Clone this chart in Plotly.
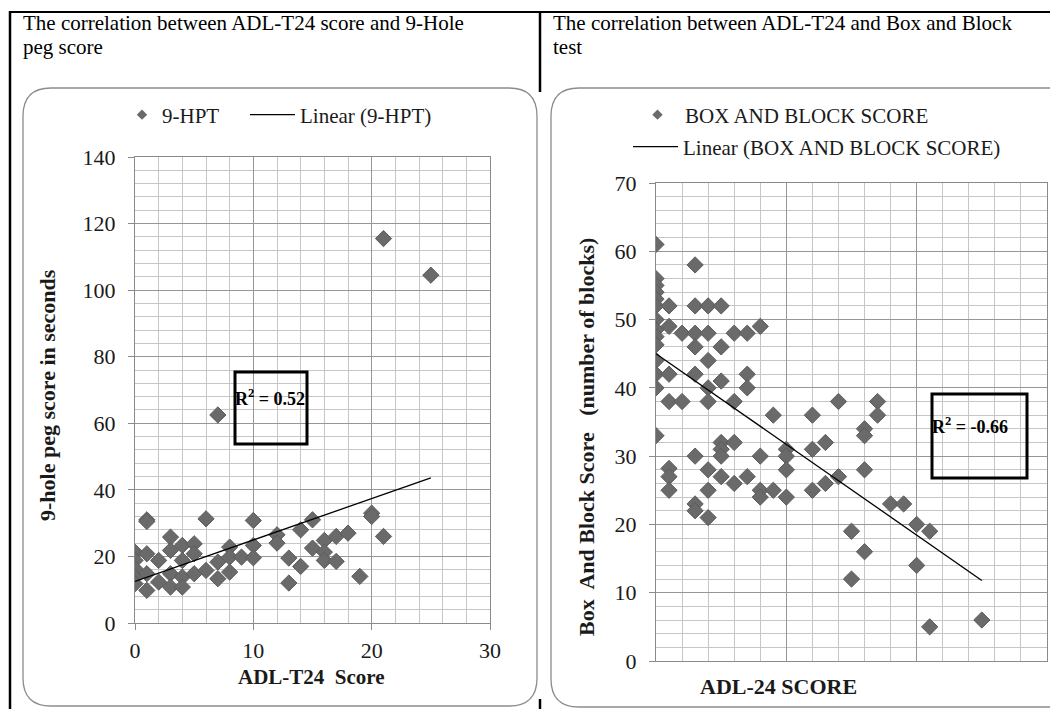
import plotly.graph_objects as go

W, H = 1058, 709
OX, OY = 8, 8   # the page body offsets the figure by 8px

# ---------------- data ----------------
# Left: ADL-T24 score vs 9-hole peg test (seconds)
hpt_x = [0, 0, 0, 0, 0,
         1, 1, 1, 1, 1,
         2, 2,
         3, 3, 3, 3,
         4, 4, 4, 4,
         5, 5, 5,
         6, 6,
         7, 7, 7,
         8, 8, 8,
         9,
         10, 10, 10,
         12, 12,
         13, 13,
         14, 14,
         15, 15,
         16, 16, 16,
         17, 17,
         18,
         19,
         20, 20,
         21, 21,
         25]
hpt_y = [21.3, 18.8, 16.3, 13.8, 11.8,
         31.0, 30.5, 20.8, 14.8, 9.8,
         18.8, 12.3,
         25.8, 21.8, 14.8, 10.8,
         23.3, 18.8, 13.8, 10.8,
         23.8, 20.8, 14.8,
         31.3, 15.8,
         62.5, 18.3, 13.3,
         22.8, 19.8, 15.3,
         19.8,
         30.8, 23.3, 19.6,
         26.5, 24.0,
         19.5, 12.0,
         28.0, 17.0,
         31.0, 22.5,
         24.8, 21.3, 18.8,
         26.0, 18.5,
         27.0,
         14.0,
         33.0, 32.0,
         115.5, 26.0,
         104.5]
hpt_trend_x = [0, 25]
hpt_trend_y = [12.5, 43.6]
hpt_r2 = "0.52"

# Right: ADL-24 score vs Box and Block score
bbt_x = [0] * 14 + [1] * 7 + [2] * 2 + [3] * 8 + [4] * 8 + [5] * 7 + [6] * 4 + \
        [7] * 4 + [8] * 4 + [9] * 2 + [10] * 4 + [12] * 3 + [13] * 2 + [14] * 2 + \
        [15] * 2 + [16] * 4 + [17] * 2 + [18] + [19] + [20] * 2 + [21] * 2 + [25]
bbt_y = [61, 56, 55, 54, 53, 52, 50, 48.5, 47.5, 46.3, 44, 42, 40, 33,
         52, 49, 42, 38, 28.2, 27, 25,
         48, 38,
         58, 52, 48, 46, 42, 30, 23, 22,
         52, 48, 44, 40, 38, 28, 25, 21,
         52, 46, 41, 32, 31, 30, 27,
         48, 38, 32, 26,
         48, 42, 40, 27,
         49, 30, 25, 24,
         36, 25,
         31, 30, 28, 24,
         36, 31, 25,
         32, 26,
         38, 27,
         19, 12,
         34, 33, 28, 16,
         38, 36,
         23,
         23,
         20, 14,
         19, 5,
         6]
bbt_trend_x = [0, 25]
bbt_trend_y = [45.0, 11.8]
bbt_r2 = "-0.66"

left_title = ["The correlation between ADL-T24 score and 9-Hole", "peg score"]
right_title = ["The correlation between ADL-T24 and Box and Block", "test"]

# ---------------- helpers ----------------
def px(x):
    return (x - OX) / W

def py(y):
    return 1 - (y - OY) / H

SERIF = "Liberation Serif, Times New Roman, serif"
MARK = "#6a6a6a"
MAJ = "#969696"
MIN = "#c6c6c6"
TXT = "#1a1a1a"

fig = go.Figure()

# left chart traces
fig.add_trace(go.Scatter(x=hpt_x, y=hpt_y, mode="markers", showlegend=False,
                         marker=dict(symbol="diamond", size=12.5, color=MARK,
                                     line=dict(color="#5c5c5c", width=1)),
                         xaxis="x", yaxis="y"))
fig.add_trace(go.Scatter(x=hpt_trend_x, y=hpt_trend_y, mode="lines", showlegend=False,
                         line=dict(color="black", width=1.3), xaxis="x", yaxis="y"))
fig.add_trace(go.Scatter(x=[None], y=[None], mode="markers", name="9-HPT",
                         marker=dict(symbol="diamond", size=8, color=MARK),
                         legend="legend", xaxis="x", yaxis="y"))
fig.add_trace(go.Scatter(x=[None], y=[None], mode="lines", name="Linear (9-HPT)",
                         line=dict(color="black", width=1.3),
                         legend="legend3", xaxis="x", yaxis="y"))

# right chart traces
fig.add_trace(go.Scatter(x=bbt_x, y=bbt_y, mode="markers", showlegend=False,
                         marker=dict(symbol="diamond", size=12.5, color=MARK,
                                     line=dict(color="#5c5c5c", width=1)),
                         xaxis="x2", yaxis="y2"))
fig.add_trace(go.Scatter(x=bbt_trend_x, y=bbt_trend_y, mode="lines", showlegend=False,
                         line=dict(color="black", width=1.3), xaxis="x2", yaxis="y2"))
fig.add_trace(go.Scatter(x=[None], y=[None], mode="markers", name="BOX AND BLOCK SCORE",
                         marker=dict(symbol="diamond", size=8, color=MARK),
                         legend="legend2", xaxis="x2", yaxis="y2"))
fig.add_trace(go.Scatter(x=[None], y=[None], mode="lines",
                         name="Linear (BOX AND BLOCK SCORE)",
                         line=dict(color="black", width=1.3),
                         legend="legend4", xaxis="x2", yaxis="y2"))

def axis(domain, rng, dtick, minor, anchor, labels=True, ticks="outside", standoff=0):
    return dict(domain=domain, range=rng, dtick=dtick, tick0=0, anchor=anchor,
                showgrid=True, gridcolor=MAJ, gridwidth=1,
                minor=dict(dtick=minor, tick0=0, showgrid=True, gridcolor=MIN,
                           gridwidth=1, ticks=""),
                showline=True, linecolor="#8a8a8a", linewidth=1, mirror=True,
                ticks=ticks, ticklen=6, tickcolor="#8a8a8a",
                showticklabels=labels, zeroline=False, automargin=False,
                ticklabelstandoff=standoff,
                tickfont=dict(family=SERIF, size=22, color=TXT),
                fixedrange=True)

def legend(x, y, iw=30):
    return dict(orientation="v", x=px(x), y=py(y), xanchor="left", yanchor="middle",
                font=dict(family=SERIF, size=21, color=TXT), itemwidth=iw,
                bgcolor="rgba(0,0,0,0)", borderwidth=0,
                itemclick=False, itemdoubleclick=False, tracegroupgap=0)

# plot areas (pixels in the reference picture)
L = dict(x0=135, x1=490, y0=157, y1=623)
R = dict(x0=656, x1=1047, y0=183, y1=661)

fig.update_layout(
    width=W, height=H,
    margin=dict(l=0, r=0, t=0, b=0, pad=0, autoexpand=False),
    paper_bgcolor="white", plot_bgcolor="white",
    xaxis=axis([px(L["x0"]), px(L["x1"])], [0, 30], 10, 2, "y", standoff=2),
    yaxis=axis([py(L["y1"]), py(L["y0"])], [0, 140], 20, 4, "x", standoff=8),
    xaxis2=axis([px(R["x0"]), px(R["x1"])], [0, 30], 10, 2, "y2", labels=False, ticks=""),
    yaxis2=axis([py(R["y1"]), py(R["y0"])], [0, 70], 10, 2, "x2", standoff=8),
    legend=legend(122, 115),
    legend3=legend(245, 115, iw=45),
    legend2=legend(630, 115, iw=45),
    legend4=legend(628, 147, iw=45),
    showlegend=True,
)

shapes = []

def rounded(x0, y0, x1, y1, r):
    rx, ry = r / W, r / H
    X0, X1, Y0, Y1 = px(x0), px(x1), py(y0), py(y1)
    return (f"M {X0+rx},{Y0} L {X1-rx},{Y0} Q {X1},{Y0} {X1},{Y0-ry} "
            f"L {X1},{Y1+ry} Q {X1},{Y1} {X1-rx},{Y1} L {X0+rx},{Y1} "
            f"Q {X0},{Y1} {X0},{Y1+ry} L {X0},{Y0-ry} Q {X0},{Y0} {X0+rx},{Y0} Z")

for (a, b, c, d) in [(23, 88, 537, 706), (551, 88, 1080, 707)]:
    shapes.append(dict(type="path", xref="paper", yref="paper", path=rounded(a, b, c, d, 28),
                       line=dict(color="#8c8c8c", width=1.3), fillcolor="white", layer="below"))

# table frame lines
shapes.append(dict(type="line", xref="paper", yref="paper", x0=px(9), x1=px(1070),
                   y0=py(12), y1=py(12), line=dict(color="black", width=2)))
shapes.append(dict(type="line", xref="paper", yref="paper", x0=px(10), x1=px(10),
                   y0=py(11), y1=py(720), line=dict(color="black", width=2.5)))
shapes.append(dict(type="line", xref="paper", yref="paper", x0=px(540), x1=px(540),
                   y0=py(11), y1=py(92), line=dict(color="black", width=2.5)))
shapes.append(dict(type="line", xref="paper", yref="paper", x0=px(540), x1=px(540),
                   y0=py(699), y1=py(720), line=dict(color="black", width=2.5)))

# R^2 boxes
shapes.append(dict(type="rect", xref="paper", yref="paper", x0=px(235), x1=px(307),
                   y0=py(372), y1=py(444), line=dict(color="black", width=3),
                   fillcolor="rgba(0,0,0,0)"))
shapes.append(dict(type="rect", xref="paper", yref="paper", x0=px(932), x1=px(1027),
                   y0=py(394), y1=py(478), line=dict(color="black", width=3),
                   fillcolor="rgba(0,0,0,0)"))

def note(text, x, y, size, angle=0, xa="center", ya="middle", bold=False, color=TXT):
    return dict(text=f"<b>{text}</b>" if bold else text, x=px(x), y=py(y),
                xref="paper", yref="paper", xanchor=xa, yanchor=ya, textangle=angle,
                showarrow=False, align="left",
                font=dict(family=SERIF, size=size, color=color))

annotations = [
    note(left_title[0], 21, 23, 21, xa="left", color="black"),
    note(left_title[1], 21, 47, 21, xa="left", color="black"),
    note(right_title[0], 551, 23, 21, xa="left", color="black"),
    note(right_title[1], 551, 47, 21, xa="left", color="black"),
    note("9-hole peg score in seconds", 47, 395, 22, angle=-90, bold=True),
    note("ADL-T24  Score", 311, 677, 21, bold=True),
    note("Box  And Block Score   (number of blocks)", 587, 437, 22, angle=-90, bold=True),
    note("ADL-24 SCORE", 778, 686, 22, bold=True),
    note(f"R<sup>2</sup> = {hpt_r2}", 270, 397, 18, bold=True, color="black"),
    note(f"R<sup>2</sup> = {bbt_r2}", 970, 425, 18, bold=True, color="black"),
]

fig.update_layout(shapes=shapes, annotations=annotations)
fig.write_html("out.html")
